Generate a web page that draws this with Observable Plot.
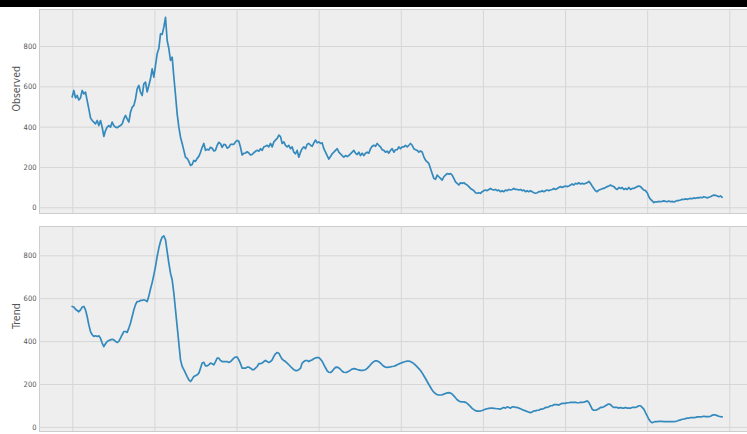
<!DOCTYPE html>
<html><head><meta charset="utf-8">
<script src="https://cdn.jsdelivr.net/npm/d3@7"></script>
<script src="https://cdn.jsdelivr.net/npm/@observablehq/plot@0.6"></script>
<style>
html,body{margin:0;padding:0;background:#fff;}
#wrap{position:relative;width:747px;height:434px;overflow:hidden;}
#bar{position:absolute;left:0;top:0;width:747px;height:7px;background:#000;}
#p1{position:absolute;left:0;top:0;}
#p2{position:absolute;left:0;top:218px;}
</style></head><body>
<div id="wrap"><div id="p1"></div><div id="p2"></div><div id="bar"></div></div>
<script>
const observed = [550,
582,545,557,535,545,582,565,574,532,491,446,433,425,416,433,408,433,400,354,383,400,408,400,425,408,400,397,403,408,416,441,458,441,425,474,499,507,540,590,607,
574,557,615,623,575,607,640,689,648,706,764,790,863,860,896,945,830,790,731,747,650,560,466,400,350,
319,285,251,245,230,210,215,235,230,245,255,275,300,319,285,290,287,300,295,282,
285,310,325,318,300,315,312,296,300,315,315,315,327,334,330,300,262,270,272,278,
272,262,265,273,280,285,281,293,285,302,305,310,302,319,302,327,336,344,361,353,
319,327,310,302,310,293,302,276,268,285,251,276,293,302,293,315,319,310,
305,322,336,322,327,319,322,293,276,259,242,254,268,276,285,293,276,268,259,251,
259,254,259,268,276,285,271,264,276,259,271,259,271,276,271,293,305,310,305,319,
310,302,288,285,276,281,271,285,293,276,288,288,302,293,302,302,310,302,310,319,
310,293,288,285,276,
282,277,253,236,228,220,195,170,146,141,162,154,146,137,154,162,170,167,170,162,
146,129,121,113,124,121,124,118,113,105,96,91,85,75,72,75,72,80,85,88,
85,91,96,91,88,91,85,88,80,85,80,88,85,91,88,91,96,91,91,88,
91,85,88,80,85,80,85,80,75,72,75,80,80,85,80,85,88,85,88,91,
96,91,96,101,105,101,105,108,105,108,
113,118,113,121,118,124,118,121,118,121,124,131,121,108,96,85,80,88,91,95,
96,101,105,108,113,108,105,96,91,101,96,101,91,96,91,101,91,96,96,101,
105,108,105,96,88,85,75,55,42,35,26,30,29,32,30,32,34,32,30,34,
30,32,29,32,36,36,39,42,41,44,42,45,47,45,49,47,50,49,52,50,
55,52,49,52,55,60,63,62,59,55,59,52];

// Trend series (same sampling)
const trend = [
564,561,551,545,539,548,561,564,548,517,478,447,432,424,427,424,427,416,393,377,
390,401,405,408,411,408,401,396,401,416,432,447,447,443,463,486,517,548,572,587,
587,592,592,595,592,587,612,645,675,711,750,797,836,867,887,893,875,820,766,719,
688,626,548,471,393,315,284,269,253,237,222,214,225,237,241,245,253,276,300,303,
287,287,292,300,297,292,307,323,323,312,307,307,307,307,303,307,315,323,328,328,
315,297,276,276,276,281,281,276,269,269,276,284,297,297,300,307,312,307,303,307,
315,331,343,349,346,331,318,312,307,300,292,284,276,269,265,265,269,276,300,307,
312,312,307,
312,315,320,324,326,325,318,308,293,278,264,257,256,262,272,280,281,277,270,262,
257,256,258,262,267,272,274,273,270,268,266,266,267,269,275,283,292,301,307,310,
310,306,300,292,285,281,280,281,282,284,285,288,292,296,299,302,305,307,309,309,
307,303,297,290,282,274,265,254,241,228,214,200,187,174,164,157,153,151,151,152,
155,158,161,162,160,155,147,138,129,123,120,119,119,117,112,105,97,89,83,78,
76,76,77,79,82,85,87,89,90,90,89,88,87,86,
85,90,93,90,96,93,90,96,96,93,93,90,87,83,80,77,74,71,69,72,
77,77,80,80,85,85,88,93,93,96,101,101,106,106,106,104,109,112,112,112,
115,115,117,117,117,117,115,115,117,117,118,120,124,117,101,85,80,80,83,87,
93,93,96,101,106,109,106,98,93,93,93,90,93,90,90,93,90,90,90,93,
93,93,96,101,101,93,85,69,54,38,27,22,25,27,27,28,28,28,27,27,
27,27,27,27,27,28,30,33,35,38,39,41,43,43,46,46,46,47,49,49,
49,50,52,50,50,50,52,57,58,58,55,52,50,49];

const firstSampleYear = -0.0077;
const samplesPerYear = 49.275;
const yTicks = [0, 200, 400, 600, 800];
const xGridYears = [0, 1, 2, 3, 4, 5, 6, 7, 8];
const panelLabels = ["Observed", "Trend"];

function panel(values, label, {height, marginTop, marginBottom, yDomain}) {
  const data = values.map((v, i) => ({t: firstSampleYear + i / samplesPerYear, v}));
  return Plot.plot({
    width: 747, height, marginLeft: 39, marginRight: 0, marginTop, marginBottom,
    x: {domain: [-0.4055, 8.2155], axis: null},
    y: {domain: yDomain},
    style: {fontFamily: "'DejaVu Sans Condensed','DejaVu Sans',sans-serif", background: "transparent", overflow: "visible", color: "#555"},
    marks: [
      Plot.frame({fill: "#eeeeee", stroke: "#cdcdcd", strokeWidth: 1}),
      Plot.gridX(xGridYears, {stroke: "#d6d6d6", strokeOpacity: 1, strokeWidth: 1}),
      Plot.gridY(yTicks, {stroke: "#d6d6d6", strokeOpacity: 1, strokeWidth: 1}),
      Plot.axisY(yTicks, {tickSize: 0, tickPadding: 3, fontSize: 7.5, fill: "#555", label: null, tickFormat: d => String(d)}),
      Plot.line(data, {x: "t", y: "v", stroke: "#348ABD", strokeWidth: 1.7}),
      Plot.text([label], {text: d => d, frameAnchor: "left", rotate: -90, dx: -22.5, fontSize: 10.5, fill: "#555"})
    ]
  });
}

document.getElementById("p1").append(panel(observed, panelLabels[0], {height: 220, marginTop: 9, marginBottom: 7, yDomain: [-28.3, 983.6]}));
document.getElementById("p2").append(panel(trend, panelLabels[1], {height: 216, marginTop: 8, marginBottom: 3, yDomain: [-19.1, 936.6]}));
</script>
</body></html>
